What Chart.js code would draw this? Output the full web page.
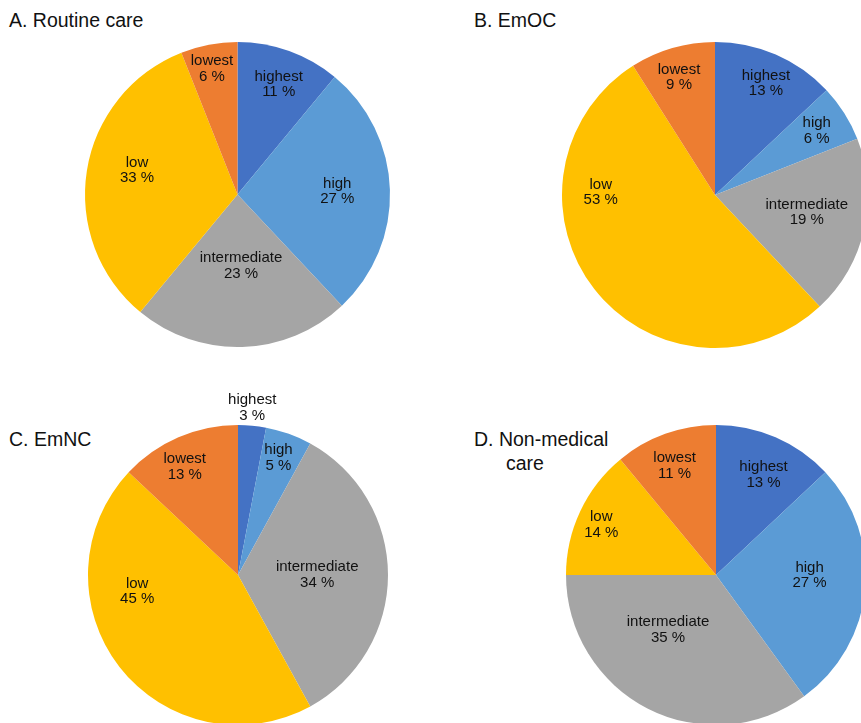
<!DOCTYPE html>
<html>
<head>
<meta charset="utf-8">
<script src="https://cdn.jsdelivr.net/npm/chart.js@4/dist/chart.umd.min.js"></script>
<style>
  html, body { margin: 0; padding: 0; background: #fff; }
  body { width: 861px; height: 723px; position: relative; overflow: hidden;
         font-family: "Liberation Sans", Arial, Helvetica, sans-serif; color: #111; }
  .panel { position: absolute; }
  .title { position: absolute; font-size: 19.5px; line-height: 1; white-space: nowrap; }
</style>
</head>
<body>
<div class="title" style="left:9px; top:11px;">A. Routine care</div>
<div class="title" style="left:474px; top:11px;">B. EmOC</div>
<div class="title" style="left:9px; top:430px;">C. EmNC</div>
<div class="title" style="left:474px; top:430px;">D. Non-medical</div>
<div class="title" style="left:506px; top:454px;">care</div>

<canvas id="pieA" class="panel"></canvas>
<canvas id="pieB" class="panel"></canvas>
<canvas id="pieC" class="panel"></canvas>
<canvas id="pieD" class="panel"></canvas>

<script>
// Categories, clockwise from 12 o'clock
const categories = ['highest', 'high', 'intermediate', 'low', 'lowest'];

// Share of respondents (%) per category
const routineCare = [11, 27, 23, 33, 6];
const emoc        = [13, 6, 19, 53, 9];
const emnc        = [3, 5, 34, 45, 13];
const nonMedical  = [13, 27, 35, 14, 11];

const sliceColors = ['#4472C4', '#5B9BD5', '#A5A5A5', '#FFC000', '#ED7D31'];

// Panel geometry: pie centre and radius on the page, plus label anchor
// offsets expressed as fractions of the radius from the pie centre.
const PAD = 45;
const panels = [
  { id: 'pieA', values: routineCare, cx: 237.5, cy: 194.5, r: 152.5,
    labelPos: [[0.27, -0.725], [0.654, -0.023], [0.023, 0.466], [-0.659, -0.16], [-0.167, -0.826]] },
  { id: 'pieB', values: emoc, cx: 715, cy: 195, r: 153,
    labelPos: [[0.333, -0.732], [0.665, -0.42], [0.6, 0.111], [-0.747, -0.02], [-0.235, -0.771]] },
  { id: 'pieC', values: emnc, cx: 237.5, cy: 575, r: 150,
    labelPos: [[0.095, -1.117], [0.27, -0.783], [0.528, -0.003], [-0.672, 0.109], [-0.355, -0.722]] },
  { id: 'pieD', values: nonMedical, cx: 715.5, cy: 575, r: 150,
    labelPos: [[0.317, -0.668], [0.624, 0.0], [-0.32, 0.365], [-0.765, -0.335], [-0.276, -0.73]] }
];

// Draws "category / value %" inside (or next to) each slice
const sliceLabels = {
  id: 'sliceLabels',
  afterDatasetsDraw(chart, args, opts) {
    const ctx = chart.ctx;
    const meta = chart.getDatasetMeta(0);
    const values = chart.data.datasets[0].data;
    ctx.save();
    ctx.fillStyle = '#111';
    ctx.font = '15px "Liberation Sans", Arial, Helvetica, sans-serif';
    ctx.textAlign = 'center';
    ctx.textBaseline = 'middle';
    meta.data.forEach((arc, i) => {
      const p = opts.positions[i];
      const x = arc.x + p[0] * arc.outerRadius;
      const y = arc.y + p[1] * arc.outerRadius;
      ctx.fillText(chart.data.labels[i], x, y - 7.5);
      ctx.fillText(values[i] + ' %', x, y + 8);
    });
    ctx.restore();
  }
};

panels.forEach(p => {
  const canvas = document.getElementById(p.id);
  const size = Math.round(2 * p.r + 2 * PAD);
  canvas.width = size;
  canvas.height = size;
  canvas.style.width = size + 'px';
  canvas.style.height = size + 'px';
  canvas.style.left = (p.cx - size / 2) + 'px';
  canvas.style.top = (p.cy - size / 2) + 'px';

  new Chart(canvas, {
    type: 'pie',
    data: {
      labels: categories,
      datasets: [{
        data: p.values,
        backgroundColor: sliceColors,
        borderWidth: 0
      }]
    },
    options: {
      responsive: false,
      animation: false,
      layout: { padding: PAD },
      plugins: {
        legend: { display: false },
        tooltip: { enabled: false },
        sliceLabels: { positions: p.labelPos }
      }
    },
    plugins: [sliceLabels]
  });
});
</script>
</body>
</html>
